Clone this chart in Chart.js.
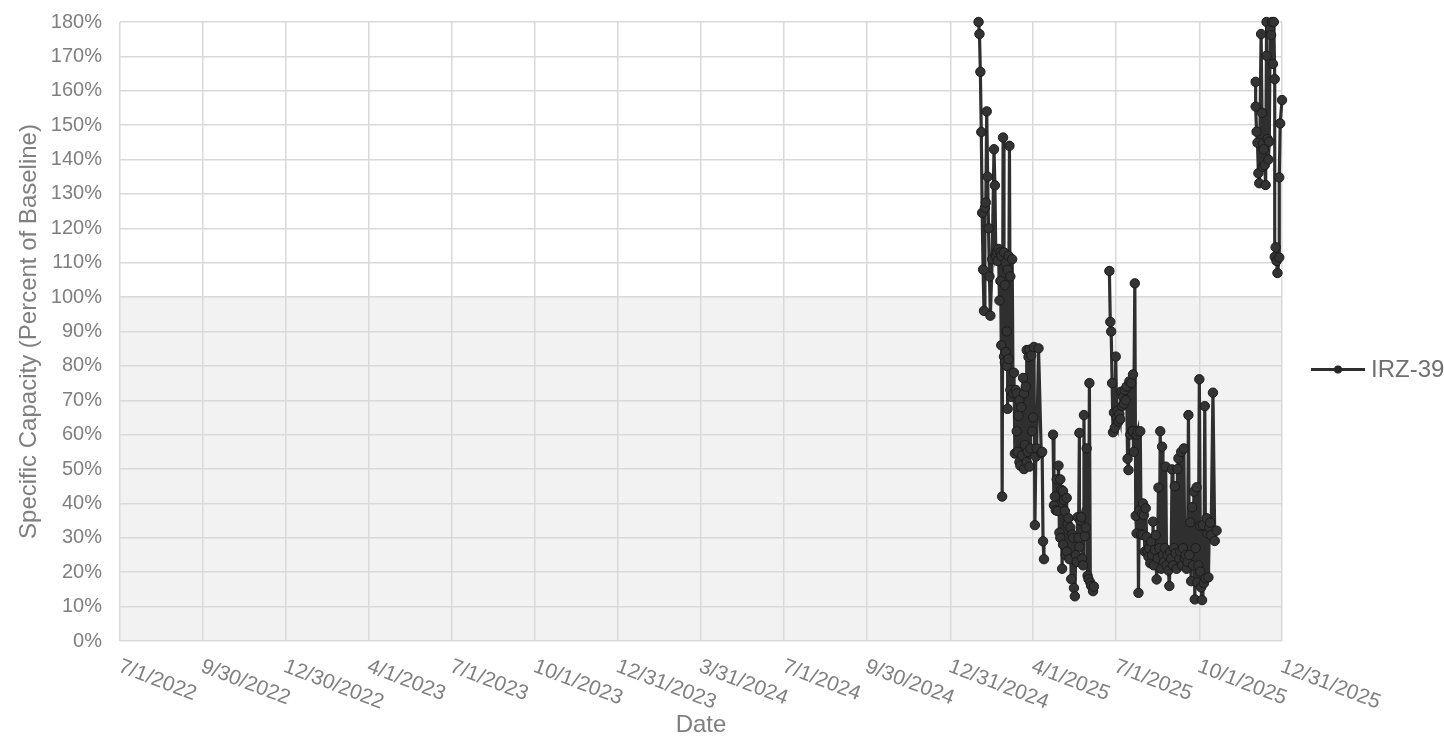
<!DOCTYPE html>
<html>
<head>
<meta charset="utf-8">
<script src="https://cdn.jsdelivr.net/npm/chart.js@4.4.1/dist/chart.umd.min.js"></script>
<style>
html,body{margin:0;padding:0;background:#ffffff;}
#wrap{width:1444px;height:737px;}
</style>
</head>
<body>
<div id="wrap"><canvas id="c" width="1444" height="737"></canvas></div>
<script>
// ---------- DATA ----------
const seriesName = 'IRZ-39';
const xTitle = 'Date';
const yTitle = 'Specific Capacity (Percent of Baseline)';

const tickDates = ['2022-07-01','2022-09-30','2022-12-30','2023-04-01','2023-07-01','2023-10-01','2023-12-31',
  '2024-03-31','2024-07-01','2024-09-30','2024-12-31','2025-04-01','2025-07-01','2025-10-01','2025-12-31'];
const tickLabels = ['7/1/2022','9/30/2022','12/30/2022','4/1/2023','7/1/2023','10/1/2023','12/31/2023',
  '3/31/2024','7/1/2024','9/30/2024','12/31/2024','4/1/2025','7/1/2025','10/1/2025','12/31/2025'];

const yMin = 0, yMax = 180, yStep = 10;
const baselineBand = [0, 100];

// null values mark gaps in the record (no line drawn across them)
const dates = [
  // Feb - early Mar 2025
  '2025-01-31','2025-02-01','2025-02-02','2025-02-03','2025-02-04','2025-02-05','2025-02-06','2025-02-07','2025-02-08','2025-02-09',
  '2025-02-10','2025-02-11','2025-02-12','2025-02-13','2025-02-15','2025-02-17','2025-02-18','2025-02-19','2025-02-20','2025-02-21',
  '2025-02-22','2025-02-23','2025-02-24','2025-02-24','2025-02-25','2025-02-25','2025-02-26','2025-02-27','2025-02-28','2025-02-28',
  '2025-03-01','2025-03-01','2025-03-02','2025-03-02','2025-03-03','2025-03-03','2025-03-04','2025-03-04','2025-03-05','2025-03-05',
  '2025-03-06','2025-03-07','2025-03-07','2025-03-08','2025-03-09','2025-03-10','2025-03-11',
  // Mar - Apr 2025
  '2025-03-12','2025-03-13','2025-03-14','2025-03-14','2025-03-15','2025-03-16','2025-03-17','2025-03-17','2025-03-18','2025-03-19',
  '2025-03-20','2025-03-21','2025-03-22','2025-03-22','2025-03-23','2025-03-24','2025-03-25','2025-03-25','2025-03-26','2025-03-27',
  '2025-03-28','2025-03-28','2025-03-29','2025-03-30','2025-03-31','2025-04-01','2025-04-02','2025-04-03','2025-04-04','2025-04-05',
  '2025-04-07','2025-04-10','2025-04-11','2025-04-12','2025-04-13',
  '2025-04-18',
  // late Apr - early Jun 2025
  '2025-04-23','2025-04-24','2025-04-25','2025-04-26','2025-04-27','2025-04-28','2025-04-29','2025-04-30','2025-05-01','2025-05-01',
  '2025-05-02','2025-05-03','2025-05-04','2025-05-04','2025-05-05','2025-05-06','2025-05-07','2025-05-08','2025-05-08','2025-05-09',
  '2025-05-10','2025-05-11','2025-05-12','2025-05-13','2025-05-14','2025-05-15','2025-05-16','2025-05-17','2025-05-18','2025-05-19',
  '2025-05-20','2025-05-21','2025-05-22','2025-05-22','2025-05-23','2025-05-24','2025-05-25','2025-05-26','2025-05-27','2025-05-28',
  '2025-05-29','2025-05-30','2025-05-31','2025-06-01','2025-06-02','2025-06-03','2025-06-04','2025-06-06','2025-06-07',
  '2025-06-15',
  // late Jun - Aug 2025
  '2025-06-24','2025-06-25','2025-06-26','2025-06-27','2025-06-28','2025-06-29','2025-06-30','2025-07-01','2025-07-02','2025-07-03',
  '2025-07-04','2025-07-05','2025-07-06','2025-07-07','2025-07-08','2025-07-09','2025-07-10','2025-07-11','2025-07-12','2025-07-13',
  '2025-07-14','2025-07-15','2025-07-16','2025-07-17','2025-07-18','2025-07-19','2025-07-20','2025-07-20','2025-07-21','2025-07-22',
  '2025-07-23','2025-07-24','2025-07-24','2025-07-25','2025-07-26','2025-07-27','2025-07-28','2025-07-29','2025-07-30','2025-07-31',
  '2025-07-31','2025-08-01','2025-08-02','2025-08-03','2025-08-04','2025-08-05','2025-08-06','2025-08-07','2025-08-08',
  // Aug - Oct 2025
  '2025-08-09','2025-08-10','2025-08-11','2025-08-12','2025-08-13','2025-08-14','2025-08-15','2025-08-16','2025-08-17','2025-08-18',
  '2025-08-19','2025-08-20','2025-08-21','2025-08-22','2025-08-23','2025-08-24','2025-08-25','2025-08-26','2025-08-27','2025-08-28',
  '2025-08-29','2025-08-30','2025-08-31','2025-09-01','2025-09-02','2025-09-03','2025-09-04','2025-09-05','2025-09-06','2025-09-07',
  '2025-09-08','2025-09-09','2025-09-10','2025-09-11','2025-09-12','2025-09-13','2025-09-14','2025-09-15','2025-09-16','2025-09-17',
  '2025-09-18','2025-09-19','2025-09-20','2025-09-21','2025-09-22','2025-09-23','2025-09-24','2025-09-25','2025-09-26','2025-09-27',
  '2025-09-28','2025-09-29','2025-09-30','2025-10-01','2025-10-02','2025-10-02','2025-10-03','2025-10-04','2025-10-05','2025-10-06',
  '2025-10-07','2025-10-08','2025-10-09','2025-10-10','2025-10-11','2025-10-12','2025-10-13','2025-10-14','2025-10-16','2025-10-18',
  '2025-10-20',
  '2025-11-10',
  // Dec 2025
  '2025-12-02','2025-12-02','2025-12-03','2025-12-04','2025-12-05','2025-12-06','2025-12-08','2025-12-09','2025-12-10','2025-12-10',
  '2025-12-11','2025-12-12','2025-12-13','2025-12-14','2025-12-14','2025-12-15','2025-12-16','2025-12-17','2025-12-18','2025-12-19',
  '2025-12-20','2025-12-21','2025-12-22','2025-12-23','2025-12-23','2025-12-24','2025-12-25','2025-12-26','2025-12-28','2025-12-28',
  '2025-12-29','2025-12-31'
];

const values = [
  180,176.5,165.5,148,124.5,108,96,126,127.5,154,
  135,120,106,94.6,111,143,132.5,112,113,110.5,
  114,99,104.7,113,86,112,42,146.4,82.7,113,
  81,103.5,84,110,90,80,108,67.5,112,82,
  144,73,106,71,111,72,78,

  54.5,73,61,72,55,65.5,52,70,51,68,
  54,76.5,50,72,57,74,52,84.6,55,82.6,
  50.7,84.7,56,83,61,65,85.5,33.7,53.6,56,
  85.1,54.7,55,29,23.8,
  null,

  60,39.5,42,38,47,37.8,51,31.5,47,30,
  44,21,43.6,28,41,37.8,25,41.6,26,34,
  35.7,23.8,33,18,31,30,15.4,13,25,23,
  36,30,60.5,27.4,35,36,24,22,65.7,30.5,
  33,56,19,18,75,17,16,14.5,15.8,
  null,

  107.6,92.8,90,75,60.7,66.4,62,82.7,65,67,
  63.8,66,64.5,72.5,68.3,71,69,73,70,74,
  53,49.7,75.5,60,75,61,77.5,61,55,104,
  36.4,31.3,60,61,14,38,61,31,37,40,
  30.8,36.6,26,38.6,30.3,26,24.5,27,22.6,

  28.9,25,34.7,22,26.5,30.8,17.9,24,44.6,27,
  61,21,56.5,25,23,27,50.7,22,25,20.5,
  16,26,24,49.9,22,27,45,25.5,21,50,
  53.1,24,26,55,22,27,56,24,25,21,
  23,65.7,25,34.5,17.4,38.9,22,43.4,12.1,27,
  44.7,17,22,76.1,33.5,20.2,15.6,11.9,33.7,16.8,
  68.3,18.2,35.7,31.3,18.5,33,34.4,30.8,72.2,29.1,
  32.1,
  null,

  162.6,155.4,148.1,144.9,136,133.1,176.5,153.6,137.9,144.7,
  143,138.4,132.6,180,170.2,146,140,145.2,178.1,176.2,
  180,167.8,180,163.4,111.7,114.5,110.5,107,111.5,134.8,
  150.5,157.3
];

// ---------- HELPERS ----------
function dayNum(s){ const p = s.split('-').map(Number); return Date.UTC(p[0], p[1]-1, p[2]) / 86400000; }
const tickDays = tickDates.map(dayNum);
const points = dates.map((d, i) => ({ x: dayNum(d), y: values[i] }));

const TEXT = '#7f7f7f';
const GRID = '#d9d9d9';
const LINE = '#2f2f2f';
const FONT = "'Liberation Sans', Arial, sans-serif";

const decorPlugin = {
  id: 'decor',
  beforeDraw(chart) {
    const ctx = chart.ctx, a = chart.chartArea, y = chart.scales.y;
    ctx.save();
    ctx.fillStyle = '#ffffff';
    ctx.fillRect(0, 0, chart.width, chart.height);
    const top = y.getPixelForValue(baselineBand[1]);
    const bot = y.getPixelForValue(baselineBand[0]);
    ctx.fillStyle = '#f2f2f2';
    ctx.fillRect(a.left, top, a.right - a.left, bot - top);
    ctx.restore();
  },
  afterDraw(chart) {
    const ctx = chart.ctx, a = chart.chartArea, xs = chart.scales.x;
    ctx.save();
    // rotated date labels
    ctx.fillStyle = TEXT;
    ctx.font = '21px ' + FONT;
    ctx.textAlign = 'left';
    ctx.textBaseline = 'top';
    tickDays.forEach((d, i) => {
      const px = xs.getPixelForValue(d);
      ctx.save();
      ctx.translate(px + 3, a.bottom + 15);
      ctx.rotate(21 * Math.PI / 180);
      ctx.fillText(tickLabels[i], 0, 0);
      ctx.restore();
    });
    // legend
    const ly = (a.top + a.bottom) / 2 + 38;
    const lx0 = a.right + 29, lx1 = a.right + 83;
    ctx.strokeStyle = LINE;
    ctx.lineWidth = 3;
    ctx.beginPath(); ctx.moveTo(lx0, ly); ctx.lineTo(lx1, ly); ctx.stroke();
    ctx.fillStyle = '#262626';
    ctx.beginPath(); ctx.arc((lx0 + lx1) / 2, ly, 4, 0, Math.PI * 2); ctx.fill();
    ctx.fillStyle = '#6f6f6f';
    ctx.font = '24px ' + FONT;
    ctx.textBaseline = 'middle';
    ctx.fillText(seriesName, lx1 + 6, ly + 1);
    ctx.restore();
  }
};

new Chart(document.getElementById('c'), {
  type: 'line',
  data: {
    datasets: [{
      label: seriesName,
      data: points,
      borderColor: LINE,
      borderWidth: 3.2,
      backgroundColor: '#333333',
      pointBackgroundColor: '#333333',
      pointBorderColor: '#1c1c1c',
      pointBorderWidth: 1,
      pointRadius: 4.7,
      pointHoverRadius: 4.7,
      tension: 0,
      fill: false,
      spanGaps: false,
      clip: false
    }]
  },
  options: {
    responsive: false,
    animation: false,
    devicePixelRatio: 1,
    layout: { padding: { left: 10, right: 162, top: 22, bottom: 0 } },
    plugins: { legend: { display: false }, tooltip: { enabled: false } },
    scales: {
      x: {
        type: 'linear',
        min: tickDays[0],
        max: tickDays[tickDays.length - 1],
        afterBuildTicks(scale) { scale.ticks = tickDays.map(v => ({ value: v })); },
        afterFit(scale) { scale.height = 96; },
        ticks: { display: false },
        grid: { color: GRID, lineWidth: 1.5, drawTicks: false },
        border: { display: false },
        title: { display: true, text: xTitle, color: TEXT, font: { family: FONT, size: 24, lineHeight: 1 }, padding: { top: 0, bottom: 0 } }
      },
      y: {
        min: yMin, max: yMax,
        afterFit(scale) { scale.width = 110; },
        ticks: { stepSize: yStep, color: TEXT, font: { family: FONT, size: 20 }, padding: 0, callback: v => v + '%' },
        grid: { color: GRID, lineWidth: 1.5, drawTicks: true, tickLength: 18, tickColor: 'rgba(0,0,0,0)' },
        border: { display: false },
        title: { display: true, text: yTitle, color: TEXT, font: { family: FONT, size: 24, lineHeight: 1 }, padding: { top: 7, bottom: 0 } }
      }
    }
  },
  plugins: [decorPlugin]
});
</script>
</body>
</html>
